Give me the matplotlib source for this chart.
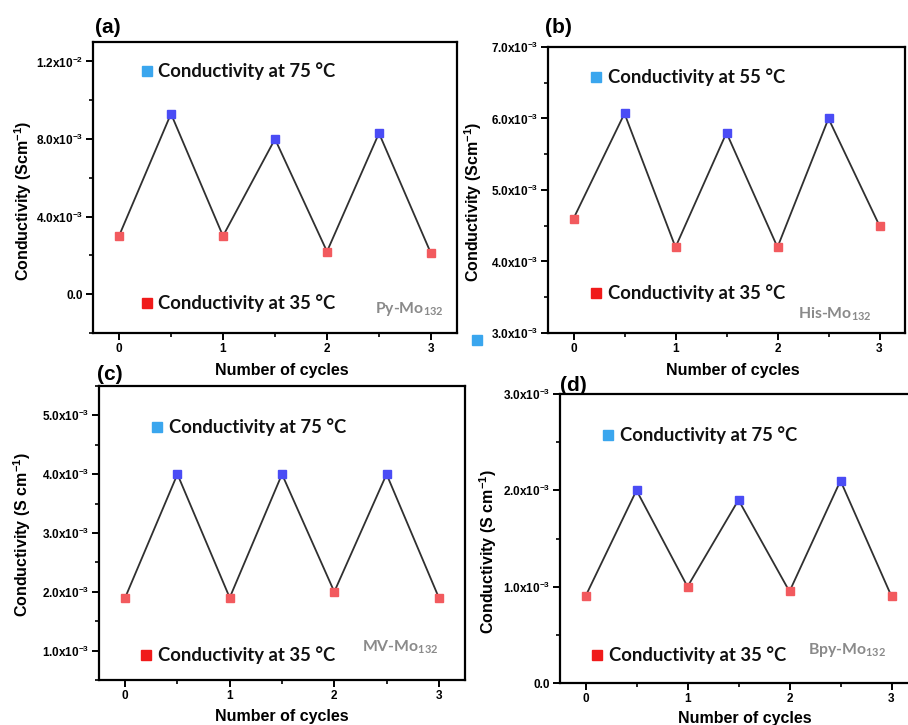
import matplotlib
matplotlib.use("Agg")
import matplotlib.pyplot as plt
from matplotlib.lines import Line2D
from matplotlib.ticker import FixedLocator, MultipleLocator

plt.rcParams["font.family"] = ["Liberation Sans", "DejaVu Sans"]
plt.rcParams["mathtext.fontset"] = "custom"
plt.rcParams["mathtext.rm"] = "Liberation Sans:bold"
plt.rcParams["mathtext.sf"] = "Lato:bold"
plt.rcParams["mathtext.default"] = "rm"

# ---- data -------------------------------------------------------------
cycles_low = [0, 1, 2, 3]
cycles_high = [0.5, 1.5, 2.5]

a_low = [3.0e-3, 3.0e-3, 2.2e-3, 2.1e-3]
a_high = [9.3e-3, 8.0e-3, 8.3e-3]

b_low = [4.6e-3, 4.2e-3, 4.2e-3, 4.5e-3]
b_high = [6.07e-3, 5.8e-3, 6.0e-3]

c_low = [1.9e-3, 1.9e-3, 2.0e-3, 1.9e-3]
c_high = [4.0e-3, 4.0e-3, 4.0e-3]

d_low = [0.9e-3, 1.0e-3, 0.95e-3, 0.9e-3]
d_high = [2.0e-3, 1.9e-3, 2.1e-3]

a_yticks = [0.0, 4.0e-3, 8.0e-3, 1.2e-2]
a_ylabels = ["0.0", "4.0x10$^{-3}$", "8.0x10$^{-3}$", "1.2x10$^{-2}$"]
b_yticks = [3.0e-3, 4.0e-3, 5.0e-3, 6.0e-3, 7.0e-3]
b_ylabels = ["3.0x10$^{-3}$", "4.0x10$^{-3}$", "5.0x10$^{-3}$", "6.0x10$^{-3}$", "7.0x10$^{-3}$"]
c_yticks = [1.0e-3, 2.0e-3, 3.0e-3, 4.0e-3, 5.0e-3]
c_ylabels = ["1.0x10$^{-3}$", "2.0x10$^{-3}$", "3.0x10$^{-3}$", "4.0x10$^{-3}$", "5.0x10$^{-3}$"]
d_yticks = [0.0, 1.0e-3, 2.0e-3, 3.0e-3]
d_ylabels = ["0.0", "1.0x10$^{-3}$", "2.0x10$^{-3}$", "3.0x10$^{-3}$"]

xticks = [0, 1, 2, 3]
xticklabels = ["0", "1", "2", "3"]

# ---- layout helpers ---------------------------------------------------
W, H = 908, 725
fig = plt.figure(figsize=(W / 100, H / 100), dpi=100)


def fx(x):
    return x / W


def fy(y):
    return 1 - y / H


def add_panel(l, t, r, b):
    return fig.add_axes([fx(l), fy(b), (r - l) / W, (b - t) / H])


HIGH_C = "#4a4cf5"
LOW_C = "#f25a5e"
KEY_HIGH = "#3aa6ee"
KEY_LOW = "#f01a1a"
LINE_C = "#303030"


def style_axes(ax, ylim, yticks, ylabels, yminor, hide_right=False):
    ax.set_xlim(-0.25, 3.25)
    ax.set_ylim(*ylim)
    ax.xaxis.set_major_locator(FixedLocator(xticks))
    ax.set_xticklabels(xticklabels)
    ax.xaxis.set_minor_locator(MultipleLocator(0.5))
    ax.yaxis.set_major_locator(FixedLocator(yticks))
    ax.set_yticklabels(ylabels)
    ax.yaxis.set_minor_locator(MultipleLocator(yminor))
    ax.tick_params(which="major", direction="out", length=5, width=1.4,
                   labelsize=8.5, pad=2)
    ax.tick_params(which="minor", direction="out", length=3, width=1.2)
    for lab in ax.get_xticklabels() + ax.get_yticklabels():
        lab.set_fontweight("bold")
    for s in ax.spines.values():
        s.set_linewidth(1.6)
    if hide_right:
        ax.spines["right"].set_visible(False)
    ax.patch.set_alpha(0)


def draw_series(ax, low, high):
    xs, ys = [], []
    for i in range(len(low)):
        xs.append(cycles_low[i])
        ys.append(low[i])
        if i < len(high):
            xs.append(cycles_high[i])
            ys.append(high[i])
    ax.plot(xs, ys, color=LINE_C, lw=1.3, zorder=2)
    ax.plot(cycles_low, low, ls="none", marker="s", ms=5.5, color=LOW_C,
            mec=LOW_C, zorder=3)
    ax.plot(cycles_high, high, ls="none", marker="s", ms=5.5, color=HIGH_C,
            mec=HIGH_C, zorder=3)


def key(x, y, color, label, text_x):
    fig.add_artist(Line2D([fx(x)], [fy(y)], marker="s", ms=7.5, color=color,
                          mec=color, ls="none", transform=fig.transFigure))
    fig.text(fx(text_x), fy(y), label, family="Lato", weight="bold",
             fontsize=13.3, va="center", ha="left", color="#111111")


def fig_text(x, y, s, **kw):
    fig.text(fx(x), fy(y), s, **kw)


# ---- panel (a) --------------------------------------------------------
ax_a = add_panel(93, 42, 457, 333)
draw_series(ax_a, a_low, a_high)
style_axes(ax_a, (-2.0e-3, 1.3e-2), a_yticks, a_ylabels, 2.0e-3)

# ---- panel (b) --------------------------------------------------------
ax_b = add_panel(548, 47, 905, 333)
draw_series(ax_b, b_low, b_high)
style_axes(ax_b, (3.0e-3, 7.0e-3), b_yticks, b_ylabels, 0.5e-3)

# ---- panel (c) --------------------------------------------------------
ax_c = add_panel(99, 386, 465, 680)
draw_series(ax_c, c_low, c_high)
style_axes(ax_c, (0.5e-3, 5.5e-3), c_yticks, c_ylabels, 0.5e-3)

# ---- panel (d) --------------------------------------------------------
ax_d = add_panel(560, 394, 917, 683)
draw_series(ax_d, d_low, d_high)
style_axes(ax_d, (0.0, 3.0e-3), d_yticks, d_ylabels, 0.5e-3,
           hide_right=True)

# ---- axis titles ------------------------------------------------------
lab_kw = dict(fontsize=11.5, weight="bold", ha="center", va="center")
fig_text(23, 201, "Conductivity (Scm$^{-1}$)", rotation=90, **lab_kw)
fig_text(473, 202, "Conductivity (Scm$^{-1}$)", rotation=90, **lab_kw)
fig_text(22, 535, "Conductivity (S cm$^{-1}$)", rotation=90, **lab_kw)
fig_text(488, 552, "Conductivity (S cm$^{-1}$)", rotation=90, **lab_kw)

fig_text(282, 370, "Number of cycles", **lab_kw)
fig_text(733, 370, "Number of cycles", **lab_kw)
fig_text(282, 716, "Number of cycles", **lab_kw)
fig_text(745, 718, "Number of cycles", **lab_kw)

# ---- panel letters ----------------------------------------------------
let_kw = dict(fontsize=15, weight="bold", ha="left", va="baseline")
fig_text(95, 33, "(a)", **let_kw)
fig_text(545, 33, "(b)", **let_kw)
fig_text(97, 380, "(c)", **let_kw)
fig_text(560, 391, "(d)", **let_kw)

# ---- temperature keys -------------------------------------------------
key(147, 71, KEY_HIGH, "Conductivity at 75 °C", 158)
key(147, 303, KEY_LOW, "Conductivity at 35 °C", 158)
key(596, 77, KEY_HIGH, "Conductivity at 55 °C", 608)
key(596, 293, KEY_LOW, "Conductivity at 35 °C", 608)
key(157, 427, KEY_HIGH, "Conductivity at 75 °C", 169)
key(146, 655, KEY_LOW, "Conductivity at 35 °C", 158)
key(608, 435, KEY_HIGH, "Conductivity at 75 °C", 620)
key(597, 655, KEY_LOW, "Conductivity at 35 °C", 609)
fig.add_artist(Line2D([fx(477)], [fy(340)], marker="s", ms=7.5,
                      color=KEY_HIGH, mec=KEY_HIGH, ls="none",
                      transform=fig.transFigure))

# ---- sample names -----------------------------------------------------
name_kw = dict(family="Lato", weight="bold", fontsize=11.3, color="#8a8a8a",
               ha="left", va="center")
fig_text(375, 309, r"Py-Mo$_{\mathsf{132}}$", **name_kw)
fig_text(798, 314, r"His-Mo$_{\mathsf{132}}$", **name_kw)
fig_text(362, 647, r"MV-Mo$_{\mathsf{132}}$", **name_kw)
fig_text(808, 650, r"Bpy-Mo$_{\mathsf{132}}$", **name_kw)

fig.savefig("out.png", dpi=100, facecolor="white")
